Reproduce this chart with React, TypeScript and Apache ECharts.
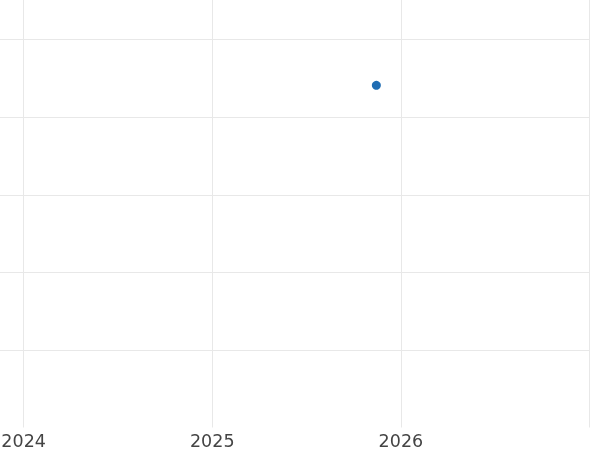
import React, { useEffect, useRef } from 'react';
import * as echarts from 'echarts';

// one observation: [year (fractional), value]
const points: [number, number][] = [[2025.87, 4.41]];
const xTicks = [2023, 2024, 2025, 2026, 2027];
const yMin = 0;
const yMax = 6;

const App: React.FC = () => {
  const chartRef = useRef<HTMLDivElement>(null);

  useEffect(() => {
    if (!chartRef.current) return;
    document.body.style.overflow = 'hidden';
    const chart = echarts.init(chartRef.current, undefined, { renderer: 'svg' });

    const gridLine = { show: true, lineStyle: { color: '#e8e8e8', width: 1 } };

    chart.setOption({
      animation: false,
      grid: {
        left: 0,
        right: 11.5,
        top: 0,
        bottom: 23.5,
        containLabel: false,
        outerBoundsMode: 'none'
      },
      xAxis: {
        type: 'value',
        min: xTicks[0],
        max: xTicks[xTicks.length - 1],
        interval: 1,
        axisLine: { show: false },
        axisTick: { show: false },
        splitLine: gridLine,
        axisLabel: {
          show: true,
          showMaxLabel: false,
          showMinLabel: false,
          margin: 4,
          fontSize: 17.5,
          color: '#444444',
          fontFamily: 'DejaVu Sans',
          formatter: (v: number) => String(v)
        }
      },
      yAxis: {
        type: 'value',
        min: yMin,
        max: yMax,
        interval: 1,
        axisLine: { show: false },
        axisTick: { show: false },
        axisLabel: { show: false },
        splitLine: { ...gridLine, showMinLine: false }
      },
      series: [
        {
          type: 'scatter',
          data: points,
          symbol: 'circle',
          symbolSize: 9,
          itemStyle: { color: '#1f6db3', opacity: 1 }
        }
      ]
    });

    return () => {
      chart.dispose();
    };
  }, []);

  // the plot is larger than the window; the window shows a crop of it
  return (
    <div
      ref={chartRef}
      style={{ position: 'fixed', left: '-165.5px', top: '-38.5px', width: '765.5px', height: '488.5px' }}
    ></div>
  );
};

export default App;
